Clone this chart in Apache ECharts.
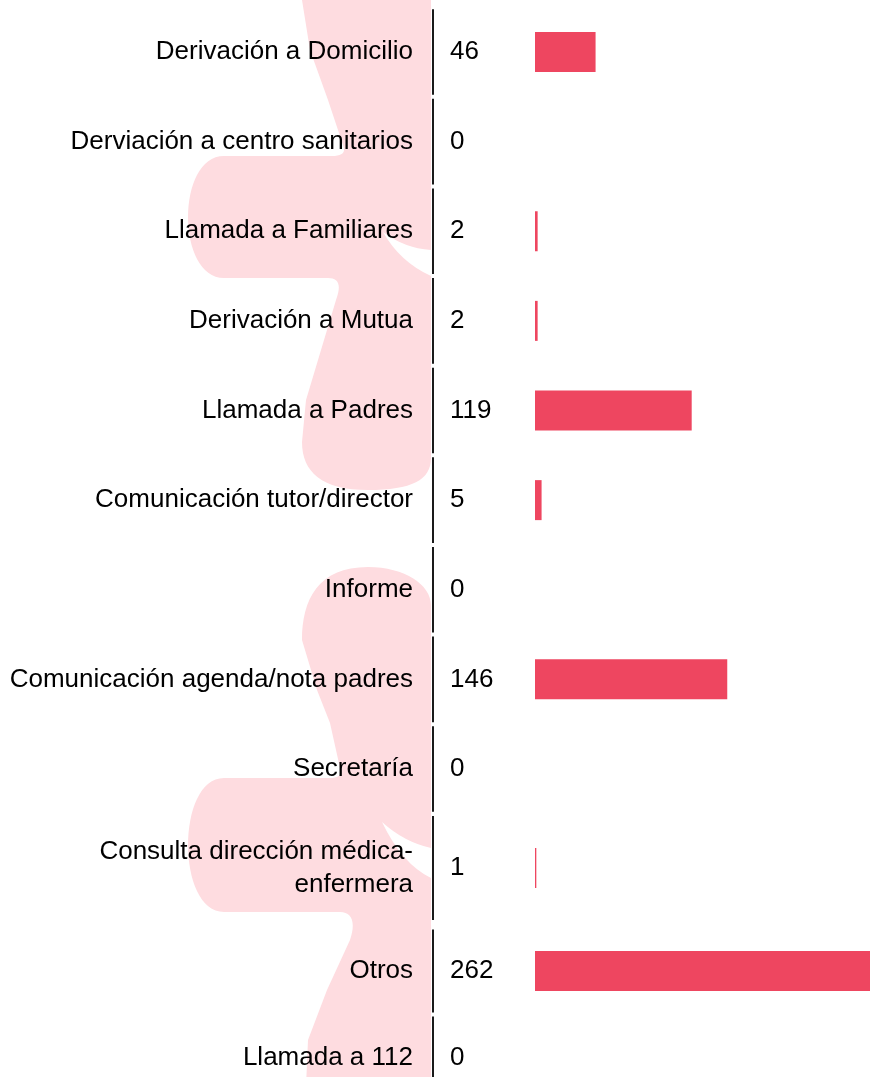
<!DOCTYPE html>
<html>
<head>
<meta charset="utf-8">
<script src="https://cdn.jsdelivr.net/npm/echarts@6/dist/echarts.min.js"></script>
<style>
  html, body { margin: 0; padding: 0; background: #ffffff; overflow: hidden; }
  #frame { width: 870px; height: 1077px; overflow: hidden; position: relative; }
  #chart { width: 880px; height: 1102px; position: absolute; left: 0; top: 0; }
</style>
</head>
<body>
<div id="frame"><div id="chart"></div></div>
<script>
// ---- data ----
const categories = [
  'Derivación a Domicilio',
  'Derviación a centro sanitarios',
  'Llamada a Familiares',
  'Derivación a Mutua',
  'Llamada a Padres',
  'Comunicación tutor/director',
  'Informe',
  'Comunicación agenda/nota padres',
  'Secretaría',
  'Consulta dirección médica-\nenfermera',
  'Otros',
  'Llamada a 112'
];
const values = [46, 0, 2, 2, 119, 5, 0, 146, 0, 1, 262, 0];
const axisMax = 262;

// ---- layout (row groups with their own band heights) ----
const groups = [
  { start: 0, end: 9, top: 7.2, height: 806.6 },
  { start: 9, end: 10, top: 814, height: 108 },
  { start: 10, end: 12, top: 927.5, height: 174 }
];

const FONT = '"Liberation Sans", Arial, sans-serif';
const BAR_COLOR = '#EE4660';
const LINE_OFFSET = 102;
const PINK = '#FEDCE0';
const watermarkPaths = [
  'M302,-10 L431,-10 L431,250 Q404,248 383,232 Q400,262 431,276 L431,458 ' +
  'C431,480 412,490 368,490 C322,490 302,472 302,442 L306,400 L321,350 L336,300 ' +
  'C342,284 338,278 328,278 L224,278 C176,278 176,156 224,156 L332,156 ' +
  'C343,156 346,152 343,145 L328,100 L310,50 L302,0 Z',
  'M302,640 C302,600 318,567 368,567 C405,567 431,585 431,605 L431,848 ' +
  'Q404,842 382,822 Q402,864 431,878 L431,1110 L305,1110 L308,1040 L327,990 L350,940 ' +
  'C356,922 352,912 340,912 L224,912 C176,912 176,778 224,778 L330,778 ' +
  'C340,778 342,774 340,768 L330,723 L317,690 L302,640 Z'
];

const chart = echarts.init(document.getElementById('chart'), null, { renderer: 'canvas' });

const grids = [], xAxes = [], yAxes = [], series = [];

// background watermark
series.push({
  type: 'custom', xAxisIndex: 0, yAxisIndex: 0, clip: false, silent: true, z: -10,
  data: [[0, 0]],
  renderItem: function () {
    return {
      type: 'group',
      children: watermarkPaths.map(d => ({
        type: 'path', shape: { pathData: d },
        style: { fill: PINK, stroke: null }
      }))
    };
  },
  animation: false
});

groups.forEach((g, i) => {
  const cats = categories.slice(g.start, g.end);
  const vals = values.slice(g.start, g.end);
  grids.push({ left: 535, width: 345, top: g.top, height: g.height, containLabel: false });
  xAxes.push({ gridIndex: i, type: 'value', min: 0, max: axisMax, show: false });
  yAxes.push({
    gridIndex: i, type: 'category', data: cats, inverse: true, offset: LINE_OFFSET,
    axisLine: { show: false }, axisTick: { show: false }, splitLine: { show: false },
    axisLabel: { margin: 20, fontSize: 26, color: '#000', fontFamily: FONT, lineHeight: 33, align: 'right' }
  });
  series.push({
    type: 'bar', xAxisIndex: i, yAxisIndex: i, data: vals, barWidth: 40,
    itemStyle: { color: BAR_COLOR },
    label: {
      show: true, position: [-85, '50%'], align: 'left', verticalAlign: 'middle',
      fontSize: 26, color: '#000', fontFamily: FONT
    },
    silent: true, animation: false
  });
  series.push({
    type: 'custom', xAxisIndex: i, yAxisIndex: i, clip: false, silent: true,
    data: vals.map((v, j) => [0, j]),
    renderItem: function (params, api) {
      const p = api.coord([0, api.value(1)]);
      const h = api.size([0, 1])[1];
      const x = p[0] - LINE_OFFSET;
      return {
        type: 'line',
        shape: { x1: x, y1: p[1] - h / 2 + 2, x2: x, y2: p[1] + h / 2 - 2 },
        style: { stroke: '#1a1a1a', lineWidth: 2 }
      };
    },
    animation: false
  });
});

chart.setOption({
  animation: false,
  backgroundColor: '#ffffff',
  grid: grids,
  xAxis: xAxes,
  yAxis: yAxes,
  series: series
});
</script>
</body>
</html>
